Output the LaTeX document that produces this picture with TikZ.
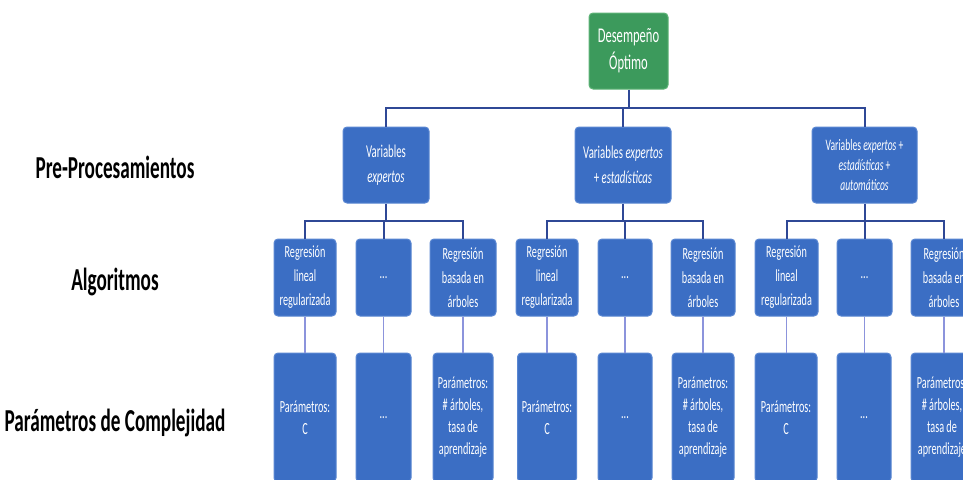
\documentclass[tikz,border=0pt]{standalone}
\usepackage{fontspec}
\setmainfont{Carlito}[FakeStretch=0.6]
\definecolor{boxblue}{RGB}{59,110,196}
\definecolor{boxblueedge}{RGB}{90,135,210}
\definecolor{boxgreen}{RGB}{60,154,92}
\definecolor{boxgreenedge}{RGB}{95,180,120}
\definecolor{treeline}{RGB}{47,72,150}
\definecolor{subline}{RGB}{140,148,220}
\tikzset{
  bx/.style={draw=boxblueedge, line width=1pt, fill=boxblue, rounded corners=4pt, text=white, align=center, inner sep=0pt},
  gbx/.style={draw=boxgreenedge, line width=1pt, fill=boxgreen, rounded corners=4pt, text=white, align=center, inner sep=0pt},
  lvlone/.style={bx, minimum height=76pt, font=\fontsize{18}{25}\selectfont},
  lvltwo/.style={bx, minimum height=77pt, font=\fontsize{17}{24}\selectfont},
  lvlthree/.style={bx, minimum height=129pt, font=\fontsize{17}{22}\selectfont},
  lbl/.style={font=\bfseries\fontsize{32}{36}\selectfont, text=black, inner sep=0pt},
  tree/.style={draw=treeline, line width=2pt},
  sub/.style={draw=subline, line width=1.6pt}
}
\begin{document}
\begin{tikzpicture}[x=1pt,y=-1pt]
\clip (0,0) rectangle (963,479);
\fill[white] (0,0) rectangle (963,479);
% side labels
\node[lbl] (lp) at (115,167) {Pre-Procesamientos};
\node[lbl] (la) at (115,282) {Algoritmos};
\node[lbl] (lc) at (115,423) {Parámetros de Complejidad};
% top
\node[gbx, minimum width=79pt, minimum height=76pt, font=\fontsize{21}{27}\selectfont] (g) at (628.5,51) {Desempeño\\Óptimo};
% level 1
\node[lvlone, minimum width=86pt] (b1) at (386,165) {Variables\\\textit{expertos}};
\node[lvlone, minimum width=96pt] (b2) at (623,165) {Variables \textit{expertos}\\+ \textit{estadísticas}};
\node[lvlone, minimum width=105pt, font=\fontsize{16}{20}\selectfont] (b3) at (864.5,165) {Variables \textit{expertos} +\\\textit{estadísticas} +\\\textit{automáticos}};
% level 2
\node[lvltwo, minimum width=62pt] (a1) at (305,277.5) {Regresión\\lineal\\regularizada};
\node[lvltwo, minimum width=55pt] (a2) at (383.5,277.5) {...};
\node[lvltwo, minimum width=66pt] (a3) at (463,277.5) {Regresión\\basada en\\árboles};
\node[lvltwo, minimum width=62pt] (a4) at (547,277.5) {Regresión\\lineal\\regularizada};
\node[lvltwo, minimum width=54pt] (a5) at (625,277.5) {...};
\node[lvltwo, minimum width=64pt] (a6) at (703,277.5) {Regresión\\basada en\\árboles};
\node[lvltwo, minimum width=63pt] (a7) at (786.5,277.5) {Regresión\\lineal\\regularizada};
\node[lvltwo, minimum width=55pt] (a8) at (864.5,277.5) {...};
\node[lvltwo, minimum width=66pt] (a9) at (944,277.5) {Regresión\\basada en\\árboles};
% level 3
\node[lvlthree, minimum width=62pt] (c1) at (305,417.5) {Parámetros:\\C};
\node[lvlthree, minimum width=55pt] (c2) at (383.5,417.5) {...};
\node[lvlthree, minimum width=60pt] (c3) at (463,417.5) {Parámetros:\\\# árboles,\\tasa de\\aprendizaje};
\node[lvlthree, minimum width=59pt] (c4) at (547,417.5) {Parámetros:\\C};
\node[lvlthree, minimum width=54pt] (c5) at (625,417.5) {...};
\node[lvlthree, minimum width=62pt] (c6) at (703,417.5) {Parámetros:\\\# árboles,\\tasa de\\aprendizaje};
\node[lvlthree, minimum width=62pt] (c7) at (786,417.5) {Parámetros:\\C};
\node[lvlthree, minimum width=54pt] (c8) at (864,417.5) {...};
\node[lvlthree, minimum width=62pt] (c9) at (942,417.5) {Parámetros:\\\# árboles,\\tasa de\\aprendizaje};
% connectors
\coordinate (h0) at (0,108);
\coordinate (h1) at (0,221);
\draw[tree] (g.south) -- (g.south |- h0);
\draw[tree] (b1.north) |- (h0 -| b2.north) -| (b3.north);
\draw[tree] (b2.north) -- (b2.north |- h0);
\draw[tree] (a1.north) |- (h1 -| a2.north) -| (a3.north);
\draw[tree] (b1.south) -- (b1.south |- h1);
\draw[tree] (a4.north) |- (h1 -| a5.north) -| (a6.north);
\draw[tree] (b2.south) -- (b2.south |- h1);
\draw[tree] (a7.north) |- (h1 -| a8.north) -| (a9.north);
\draw[tree] (b3.south) -- (b3.south |- h1);
\draw[tree] (a2.north) -- (a2.north |- h1);
\draw[tree] (a5.north) -- (a5.north |- h1);
\draw[tree] (a8.north) -- (a8.north |- h1);
\foreach \i in {1,...,9} {\draw[sub] (a\i.south) -- (c\i.north -| a\i.south);}
\end{tikzpicture}
\end{document}
